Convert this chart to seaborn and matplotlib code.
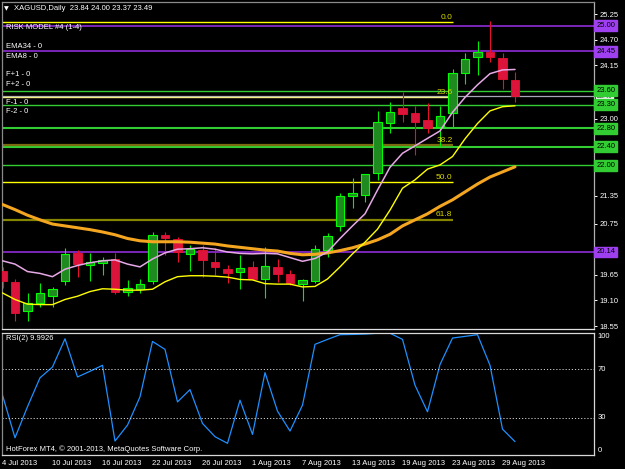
import matplotlib
matplotlib.use("Agg")
import matplotlib.pyplot as plt
import seaborn as sns
import pandas as pd
import numpy as np

# ---------------- data ----------------
symbol = "XAGUSD,Daily"
opens = [19.73, 19.50, 18.88, 19.04, 19.20, 19.52, 20.12, 19.85, 19.90, 19.98,
         19.29, 19.35, 19.52, 20.50, 20.41, 20.09, 20.18, 19.93, 19.77, 19.70,
         19.81, 19.57, 19.82, 19.66, 19.45, 19.52, 20.18, 20.70, 21.35, 21.36,
         21.84, 22.90, 23.23, 23.12, 22.97, 22.83, 23.12, 23.99, 24.32, 24.44,
         24.31, 23.84]
highs = [19.82, 19.57, 19.25, 19.48, 19.38, 20.22, 20.18, 20.12, 20.04, 20.12,
         19.54, 19.57, 20.56, 20.56, 20.47, 20.29, 20.29, 20.22, 19.86, 20.07,
         19.95, 20.24, 19.98, 19.75, 19.57, 20.29, 20.54, 21.40, 21.72, 21.82,
         23.17, 23.37, 23.58, 23.28, 23.33, 23.28, 24.06, 24.42, 24.68, 25.10,
         24.41, 24.00]
lows = [19.37, 18.66, 18.66, 18.95, 18.96, 19.43, 19.60, 19.52, 19.65, 19.24,
        19.20, 19.26, 19.45, 20.07, 19.93, 19.73, 19.61, 19.65, 19.48, 19.34,
        19.54, 19.16, 19.50, 19.43, 19.08, 19.47, 20.04, 20.60, 21.08, 21.22,
        21.69, 22.70, 22.94, 22.22, 22.69, 22.42, 22.83, 23.75, 23.94, 24.21,
        23.63, 23.37]
closes = [19.52, 18.84, 19.04, 19.25, 19.34, 20.10, 19.88, 19.92, 19.97, 19.29,
          19.36, 19.45, 20.50, 20.43, 20.15, 20.20, 19.97, 19.81, 19.68, 19.79,
          19.56, 19.84, 19.66, 19.47, 19.53, 20.20, 20.48, 21.34, 21.40, 21.82,
          22.93, 23.14, 23.11, 22.94, 22.80, 23.06, 23.99, 24.29, 24.44, 24.33,
          23.85, 23.49]
ema8 = [19.95, 19.88, 19.72, 19.68, 19.61, 19.77, 19.85, 19.91, 19.95, 19.97,
        19.88, 19.82, 19.99, 20.12, 20.20, 20.21, 20.23, 20.20, 20.14, 20.11,
        20.10, 20.11, 20.10, 20.02, 19.94, 20.00, 20.14, 20.43, 20.70, 20.96,
        21.47, 21.96, 22.26, 22.42, 22.58, 22.74, 23.14, 23.46, 23.73, 23.97,
        24.05, 24.06]
ema_yellow = [19.26, 19.12, 19.02, 19.01, 19.01, 19.12, 19.19, 19.29, 19.35, 19.34,
              19.32, 19.32, 19.34, 19.50, 19.61, 19.63, 19.63, 19.62, 19.60, 19.55,
              19.54, 19.46, 19.45, 19.45, 19.39, 19.40, 19.56, 19.82, 20.10, 20.35,
              20.63, 21.04, 21.51, 21.69, 21.92, 22.01, 22.19, 22.57, 22.90, 23.17,
              23.26, 23.28]
ema34 = [21.16, 21.05, 20.93, 20.83, 20.74, 20.70, 20.66, 20.62, 20.57, 20.51,
         20.43, 20.38, 20.36, 20.36, 20.36, 20.35, 20.33, 20.31, 20.27, 20.24,
         20.21, 20.18, 20.16, 20.11, 20.08, 20.09, 20.12, 20.17, 20.23, 20.31,
         20.40, 20.52, 20.70, 20.83, 20.96, 21.12, 21.26, 21.43, 21.60, 21.75,
         21.86, 21.97]
rsi2 = [48.6, 13.2, 39.0, 63.0, 72.0, 95.4, 63.7, 68.4, 73.4, 10.5,
        23.7, 47.2, 93.2, 86.6, 43.0, 53.2, 25.1, 14.1, 8.6, 44.4,
        16.0, 67.3, 35.3, 18.8, 40.3, 90.8, 94.9, 98.8, 99.0, 99.3,
        100.0, 100.0, 94.9, 56.8, 34.8, 74.0, 96.0, 97.4, 98.8, 73.4,
        20.4, 9.99]
rsi_last = "9.9926"

date_labels = ["4 Jul 2013", "10 Jul 2013", "16 Jul 2013", "22 Jul 2013",
               "26 Jul 2013", "1 Aug 2013", "7 Aug 2013", "13 Aug 2013",
               "19 Aug 2013", "23 Aug 2013", "29 Aug 2013"]
date_bars = [0, 4, 8, 12, 16, 20, 24, 28, 32, 36, 40]

price_ticks = [25.25, 24.70, 24.15, 23.60, 23.00, 22.45, 21.90, 21.35,
               20.75, 20.20, 19.65, 19.10, 18.55]
# tick labels that the level boxes cover in the reference
covered_ticks = [23.60, 22.45, 21.90, 20.20]
purple_levels = [25.00, 24.45, 20.14]
green_levels = [23.60, 23.30, 22.80, 22.40, 22.00]
bid = 23.49

fib_names = ["0.0", "23.6", "38.2", "50.0", "61.8"]
fib_prices = [25.07, 23.46, 22.44, 21.64, 20.83]
fib_end_bar = 36

legend_lines = ["RISK MODEL #4 (1-4)", "EMA34 - 0", "EMA8 - 0",
                "F+1 - 0", "F+2 - 0", "F-1 - 0", "F-2 - 0"]
rsi_levels = [70, 30]
rsi_labels = ["100", "70", "30", "0"]
copyright_text = "HotForex MT4, \u00a9 2001-2013, MetaQuotes Software Corp."

# ---------------- styling ----------------
sns.set_theme(style="dark")
plt.rcParams.update({
    'figure.facecolor': 'black', 'axes.facecolor': 'black',
    'savefig.facecolor': 'black', 'text.color': 'white',
    'xtick.color': 'white', 'ytick.color': 'white',
    'axes.edgecolor': '#9a9a9a', 'axes.grid': False,
    'xtick.labelcolor': 'white', 'ytick.labelcolor': 'white',
})
plt.rcParams['font.family'] = ['Liberation Sans', 'DejaVu Sans']
FS = 5.5

W, H = 625, 469
fig = plt.figure(figsize=(W / 100, H / 100), dpi=100)
ax = fig.add_axes([2 / W, 1 - 329 / H, 592 / W, 327 / H])
axr = fig.add_axes([2 / W, 1 - 455 / H, 592 / W, 122 / H])

df = pd.DataFrame({"bar": np.arange(len(closes)), "open": opens, "high": highs,
                   "low": lows, "close": closes, "ema8": ema8,
                   "ema_y": ema_yellow, "ema34": ema34, "rsi": rsi2})

# horizontal levels
for lv in purple_levels:
    ax.axhline(lv, color='#9a30e8', lw=1.1, zorder=2)
for lv, lw in zip(green_levels, [1.0, 1.0, 1.5, 1.5, 1.0]):
    ax.axhline(lv, color='#32cd32', lw=lw, zorder=2)
ax.axhline(bid, color='#a8a8b8', lw=0.9, zorder=2)

# fibonacci lines
fib_colors = ['#ffff00', '#f0f080', '#7a6a10', '#ffff00', '#858500']
fib_lw = [1.0, 1.0, 1.6, 1.0, 1.6]
for name, pr, c, lw in zip(fib_names, fib_prices, fib_colors, fib_lw):
    ax.hlines(pr, -1, fib_end_bar, color=c, lw=lw, zorder=2)
    ax.annotate(name, (fib_end_bar, pr), xytext=(0, 1), textcoords='offset points',
                ha='right', va='bottom', fontsize=FS + 0.5, color='#d8d800', zorder=6)

# candles
up = df.close >= df.open
wick_col = np.where(up, '#00ee00', '#e8102c')
ax.vlines(df.bar, df.low, df.high, colors=wick_col, lw=0.8, zorder=3)
body_bottom = np.minimum(df.open, df.close)
body_h = np.maximum(np.abs(df.close - df.open), 0.02)
ax.bar(df.bar[up], body_h[up], bottom=body_bottom[up], width=0.66,
       color='#1f8a1f', edgecolor='#00ff00', linewidth=0.8, zorder=4)
ax.bar(df.bar[~up], body_h[~up], bottom=body_bottom[~up], width=0.66,
       color='#dc143c', edgecolor='#e8102c', linewidth=0.6, zorder=4)

# moving averages
sns.lineplot(data=df, x="bar", y="ema34", ax=ax, color='#f4a620', lw=2.2, zorder=5)
sns.lineplot(data=df, x="bar", y="ema_y", ax=ax, color='#ffff00', lw=1.0, zorder=5)
sns.lineplot(data=df, x="bar", y="ema8", ax=ax, color='#e6a8e6', lw=1.1, zorder=5)

ax.set_xlim(-0.04, 47.32)
ax.set_ylim(18.486, 25.509)
ax.set_xlabel(""); ax.set_ylabel("")
ax.set_xticks([])
ax.yaxis.tick_right()
ax.set_yticks(price_ticks)
ax.set_yticklabels(["" if v in covered_ticks else f"{v:.2f}" for v in price_ticks])
ax.tick_params(axis='y', length=2.5, width=0.7, pad=1.5, labelsize=FS, colors='white')
for s in ['top', 'left']:
    ax.spines[s].set_color('#8a8a8a')
ax.spines['right'].set_color('#b0b0b0')
ax.spines['bottom'].set_color('#e0e0e0')
for s in ax.spines.values():
    s.set_linewidth(0.9)

# price label boxes
tr = ax.get_yaxis_transform()
for lv in purple_levels:
    ax.text(1.004, lv, f"{lv:.2f}", transform=tr, ha='left', va='center', fontsize=FS,
            color='black', zorder=10, clip_on=False,
            bbox=dict(boxstyle='square,pad=0.25', fc='#9f40f0', ec='#9f40f0'))
ax.text(1.004, bid, f"{bid:.2f}", transform=tr, ha='left', va='center', fontsize=FS - 1,
        color='black', zorder=9, clip_on=False,
        bbox=dict(boxstyle='square,pad=0.1', fc='white', ec='white'))
for lv in green_levels:
    ax.text(1.004, lv, f"{lv:.2f}", transform=tr, ha='left', va='center', fontsize=FS,
            color='black', zorder=10, clip_on=False,
            bbox=dict(boxstyle='square,pad=0.25', fc='#32cd32', ec='#32cd32'))

# header & legend texts
fig.text(4 / W, 1 - 8.5 / H, "\u25bc", fontsize=4.5, color='white', va='center',
         family='DejaVu Sans')
fig.text(14 / W, 1 - 8.5 / H,
         f"{symbol}  {opens[-1]:.2f} {highs[-1]:.2f} {lows[-1]:.2f} {closes[-1]:.2f}",
         fontsize=FS, color='white', va='center')
legend_y = [27.5, 46, 56, 74, 84, 102, 111.5]
for t, yy in zip(legend_lines, legend_y):
    fig.text(6 / W, 1 - yy / H, t, fontsize=FS, color='white', va='center', zorder=10)

# RSI panel
sns.lineplot(data=df, x="bar", y="rsi", ax=axr, color='#1e90ff', lw=0.9)
for lv in rsi_levels:
    axr.axhline(lv, color='#d0d0d0', lw=0.7, ls=(0, (1.2, 2)))
axr.set_xlim(-0.04, 47.32)
axr.set_ylim(-1.1, 100.2)
axr.set_xlabel(""); axr.set_ylabel("")
axr.set_yticks([])
trr = axr.get_yaxis_transform()
for lab, yv in zip(rsi_labels, [97.3, 70, 30, 3]):
    axr.text(1.006, yv, lab, transform=trr, ha='left', va='center', fontsize=FS,
             color='white', clip_on=False)
axr.set_xticks(date_bars)
axr.set_xticklabels(date_labels, ha='left')
axr.tick_params(axis='x', length=2.5, width=0.7, pad=0.8, labelsize=FS, colors='white')
for s in axr.spines.values():
    s.set_color('#d8d8d8'); s.set_linewidth(0.9)
axr.spines['left'].set_color('#8a8a8a')
axr.text(0.0068, 0.955, f"RSI(2) {rsi_last}", transform=axr.transAxes, fontsize=FS,
         color='white', va='center')
axr.text(0.0068, 0.045, copyright_text, transform=axr.transAxes, fontsize=FS,
         color='white', va='center')

fig.savefig("out.png", dpi=100, facecolor='black')
